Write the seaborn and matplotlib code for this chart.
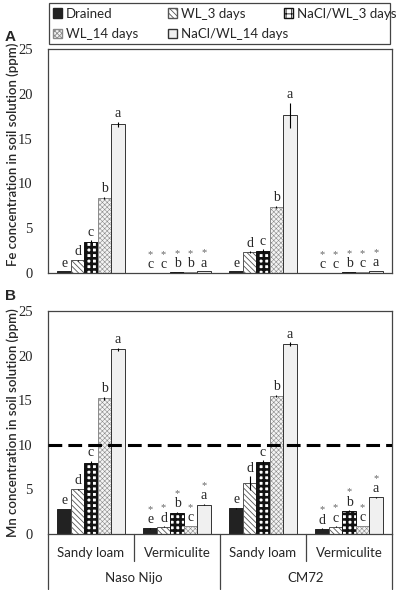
import matplotlib
matplotlib.use('Agg')
import matplotlib.pyplot as plt
import matplotlib.transforms as mtransforms
from matplotlib.patches import Patch, Rectangle
import pandas as pd
import seaborn as sns

treatments = ['Drained', 'WL_3 days', 'NaCl/WL_3 days', 'WL_14 days', 'NaCl/WL_14 days']
groups = ['NN_sandy', 'NN_verm', 'CM_sandy', 'CM_verm']
soil_labels = ['Sandy loam', 'Vermiculite', 'Sandy loam', 'Vermiculite']
cultivar_labels = ['Naso Nijo', 'CM72']

# Panel A: Fe (ppm), treatments in order above
fe_nn_sandy = [0.2, 1.4, 3.5, 8.4, 16.6]
fe_nn_verm = [0.05, 0.05, 0.15, 0.15, 0.2]
fe_cm_sandy = [0.2, 2.3, 2.5, 7.4, 17.6]
fe_cm_verm = [0.05, 0.05, 0.15, 0.15, 0.25]
fe_err_nn_sandy = [0.02, 0.1, 0.15, 0.1, 0.3]
fe_err_nn_verm = [0.0, 0.0, 0.0, 0.0, 0.0]
fe_err_cm_sandy = [0.02, 0.1, 0.15, 0.1, 1.4]
fe_err_cm_verm = [0.0, 0.0, 0.0, 0.0, 0.0]
fe_letters_nn_sandy = ['e', 'd', 'c', 'b', 'a']
fe_letters_nn_verm = ['c', 'c', 'b', 'b', 'a']
fe_letters_cm_sandy = ['e', 'd', 'c', 'b', 'a']
fe_letters_cm_verm = ['c', 'c', 'b', 'c', 'a']

# Panel B: Mn (ppm)
mn_nn_sandy = [2.8, 5.0, 8.0, 15.2, 20.7]
mn_nn_verm = [0.65, 0.8, 2.4, 0.9, 3.3]
mn_cm_sandy = [2.9, 5.7, 8.1, 15.5, 21.3]
mn_cm_verm = [0.6, 0.8, 2.6, 0.9, 4.1]
mn_err_nn_sandy = [0.05, 0.1, 0.2, 0.2, 0.2]
mn_err_nn_verm = [0.05, 0.05, 0.1, 0.05, 0.1]
mn_err_cm_sandy = [0.05, 0.8, 0.2, 0.1, 0.2]
mn_err_cm_verm = [0.05, 0.05, 0.1, 0.05, 0.1]
mn_letters_nn_sandy = ['e', 'd', 'c', 'b', 'a']
mn_letters_nn_verm = ['e', 'd', 'b', 'c', 'a']
mn_letters_cm_sandy = ['e', 'd', 'c', 'b', 'a']
mn_letters_cm_verm = ['d', 'c', 'b', 'c', 'a']

# asterisk = significant difference vs sandy loam (all vermiculite bars)
stars_sandy = [False] * 5
stars_verm = [True] * 5

face_colors = ['#222222', 'white', 'white', '#f4f4f4', '#f0f0f0']
edge_colors = ['#222222', '#555555', '#111111', '#8a8a8a', '#333333']
hatches = ['', '\\\\\\\\\\\\', '+++', 'xxxxxxx', '']
hatch_widths = [0.6, 0.6, 1.9, 0.4, 0.6]

serif = 'Liberation Serif'
sans = 'Lato'


def make_df(vals, errs, letters, stars):
    rows = []
    for g, v, e, l, s in zip(groups, vals, errs, letters, stars):
        for t, vi, ei, li, si in zip(treatments, v, e, l, s):
            rows.append({'group': g, 'treatment': t, 'value': vi, 'err': ei,
                         'letter': li, 'star': si})
    return pd.DataFrame(rows)


df_fe = make_df([fe_nn_sandy, fe_nn_verm, fe_cm_sandy, fe_cm_verm],
                [fe_err_nn_sandy, fe_err_nn_verm, fe_err_cm_sandy, fe_err_cm_verm],
                [fe_letters_nn_sandy, fe_letters_nn_verm, fe_letters_cm_sandy, fe_letters_cm_verm],
                [stars_sandy, stars_verm, stars_sandy, stars_verm])
df_mn = make_df([mn_nn_sandy, mn_nn_verm, mn_cm_sandy, mn_cm_verm],
                [mn_err_nn_sandy, mn_err_nn_verm, mn_err_cm_sandy, mn_err_cm_verm],
                [mn_letters_nn_sandy, mn_letters_nn_verm, mn_letters_cm_sandy, mn_letters_cm_verm],
                [stars_sandy, stars_verm, stars_sandy, stars_verm])

sns.set_style('white')
plt.rcParams['font.family'] = [serif, 'DejaVu Serif']
plt.rcParams['hatch.linewidth'] = 0.6


def draw_panel(ax, df, ylabel):
    sns.barplot(data=df, x='group', y='value', hue='treatment', order=groups,
                hue_order=treatments, palette=face_colors, saturation=1,
                width=0.78, errorbar=None, legend=False, ax=ax)
    bar_conts = list(ax.containers)
    for i, cont in enumerate(bar_conts):
        sub = df[df['treatment'] == treatments[i]].set_index('group').loc[groups]
        xs = []
        for p in cont.patches:
            p.set_hatch(hatches[i])
            p.set_edgecolor(edge_colors[i])
            p.set_linewidth(0.7)
            if hasattr(p, 'set_hatch_linewidth'):
                p.set_hatch_linewidth(hatch_widths[i])
            xs.append(p.get_x() + p.get_width() / 2)
        tops = sub['value'].values + sub['err'].values
        ax.errorbar(xs, sub['value'].values, yerr=sub['err'].values, fmt='none',
                    ecolor='black', elinewidth=0.8, capsize=0, zorder=5)
        for x, top, letter, star in zip(xs, tops, sub['letter'], sub['star']):
            ax.annotate(letter, (x, top), xytext=(0, 1), textcoords='offset points',
                        ha='center', va='bottom', fontsize=10, family=serif)
            if star:
                ax.annotate('*', (x, top), xytext=(0, 10), textcoords='offset points',
                            ha='center', va='bottom', fontsize=7.5, color='#666666',
                            family=serif)
    ax.set_xlim(-0.5, 3.5)
    ax.set_ylim(0, 25)
    ax.set_yticks([0, 5, 10, 15, 20, 25])
    ax.set_xticks([0.5, 1.5, 2.5])
    ax.set_xticklabels([])
    ax.set_xlabel('')
    ax.tick_params(axis='x', direction='in', length=4, color='#444444')
    ax.tick_params(axis='y', direction='out', length=3, pad=8, labelsize=10.5,
                   color='#444444')
    ax.set_ylabel(ylabel, family=sans, fontsize=9.5, weight='semibold')
    for sp in ax.spines.values():
        sp.set_visible(True)
        sp.set_color('#444444')
        sp.set_linewidth(0.9)


fig = plt.figure(figsize=(3.97, 5.90), dpi=100)
axA = fig.add_axes([48 / 397, 1 - 273 / 590, 344 / 397, 224 / 590])
axB = fig.add_axes([48 / 397, 1 - 534 / 590, 344 / 397, 223 / 590])

draw_panel(axA, df_fe, 'Fe concentration in soil solution (ppm)')
draw_panel(axB, df_mn, 'Mn concentration in soil solution (ppm)')
axA.yaxis.set_label_coords(-0.085, 0.53)
axB.yaxis.set_label_coords(-0.085, 0.5)

axB.axhline(10, color='black', lw=2.2, ls=(0, (4.5, 2)), zorder=6)

# category table under panel B
trans = mtransforms.blended_transform_factory(axB.transData, axB.transAxes)
for i, s in enumerate(soil_labels):
    axB.text(i, -0.085, s, transform=trans, ha='center', va='center',
             family=sans, fontsize=9.5)
for i, c in enumerate(cultivar_labels):
    axB.text(0.5 + 2 * i, -0.197, c, transform=trans, ha='center', va='center',
             family=sans, fontsize=9.5)
for x in [0.5, 2.5]:
    axB.plot([x, x], [0, -0.121], transform=trans, color='#444444', lw=0.9,
             clip_on=False)
for x in [-0.5, 1.5, 3.5]:
    axB.plot([x, x], [0, -0.247], transform=trans, color='#444444', lw=0.9,
             clip_on=False)

# legend: three fixed-width columns inside one box, rows read across
handles = [Patch(facecolor=face_colors[i], edgecolor=edge_colors[i], hatch=hatches[i],
                 label=treatments[i]) for i in range(5)]
columns = [[0, 3], [1, 4], [2]]
col_x = [50, 165, 281]
for cx, idx in zip(col_x, columns):
    fig.legend([handles[i] for i in idx], [treatments[i] for i in idx],
               loc='upper left', bbox_to_anchor=(cx / 397, 1 - 5 / 590),
               frameon=False, prop={'family': sans, 'size': 9.5},
               handlelength=0.7, handleheight=0.7, handletextpad=0.3,
               labelspacing=0.62, borderpad=0.2, borderaxespad=0)
fig.patches.append(Rectangle((49 / 397, 1 - 44 / 590), 341 / 397, 41 / 590,
                             transform=fig.transFigure, fill=False,
                             edgecolor='#444444', lw=0.9))

fig.text(0.012, 1 - 37 / 590, 'A', family='Liberation Sans', weight='bold',
         fontsize=11, va='center')
fig.text(0.012, 1 - 296 / 590, 'B', family='Liberation Sans', weight='bold',
         fontsize=11, va='center')

fig.savefig('out.png', dpi=100)
